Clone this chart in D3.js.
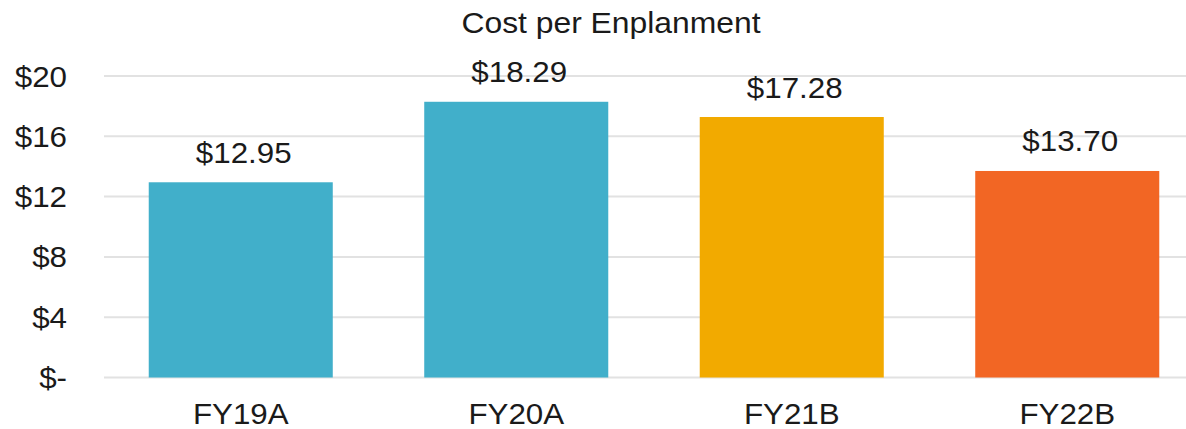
<!DOCTYPE html>
<html>
<head>
<meta charset="utf-8">
<script src="https://cdn.jsdelivr.net/npm/d3@7"></script>
<style>
  body { margin: 0; background: #fff; }
  text { font-family: "Liberation Sans", Arial, sans-serif; fill: #1a1a1a; }
</style>
</head>
<body>
<div id="chart"></div>
<script>
	// data
	var categories = ["FY19A", "FY20A", "FY21B", "FY22B"];
	var values = [12.95, 18.29, 17.28, 13.70];
	var barColors = ["#41AFCA", "#41AFCA", "#F2AA00", "#F26624"];
	var yTicks = [0, 4, 8, 12, 16, 20];
	var yTickLabels = ["$-", "$4", "$8", "$12", "$16", "$20"];
	var title = "Cost per Enplanment";

	var width = 1186, height = 429;
	var stretch = 1.08; //text looks slightly wider than tall in the source

	var svg = d3.select("#chart").append("svg")
		.attr("width", width)
		.attr("height", height);

	var x = d3.scaleBand()
		.domain(categories)
		.range([103, 1205])
		.paddingInner(0.332)
		.paddingOuter(0.166);

	var y = d3.scaleLinear()
		.domain([0, 20])
		.range([377.5, 76]);

	function placeText(sel, tx, ty) {
		return sel.attr("transform", function(d, i) {
			return "translate(" + tx(d, i) + "," + ty(d, i) + ") scale(" + stretch + ",1)";
		});
	}

	//Gridlines
	svg.append("g").attr("class", "grid")
		.selectAll("line")
		.data(yTicks)
		.enter().append("line")
		.attr("x1", 104)
		.attr("x2", width)
		.attr("y1", function(d) { return y(d); })
		.attr("y2", function(d) { return y(d); })
		.style("stroke", "#e2e2e2")
		.style("stroke-width", 2);

	//Y tick labels
	placeText(svg.append("g").selectAll("text")
		.data(yTicks)
		.enter().append("text")
		.style("text-anchor", "end")
		.style("font-size", "29px")
		.text(function(d, i) { return yTickLabels[i]; }),
		function() { return 67; },
		function(d) { return y(d) + 10.5; });

	//Bars
	svg.append("g").selectAll("rect")
		.data(values)
		.enter().append("rect")
		.attr("x", function(d, i) { return x(categories[i]); })
		.attr("width", x.bandwidth())
		.attr("y", function(d) { return y(d); })
		.attr("height", function(d) { return y(0) - y(d); })
		.style("fill", function(d, i) { return barColors[i]; });

	//Value labels
	placeText(svg.append("g").selectAll("text")
		.data(values)
		.enter().append("text")
		.style("text-anchor", "middle")
		.style("font-size", "29px")
		.text(function(d) { return "$" + d.toFixed(2); }),
		function(d, i) { return x(categories[i]) + x.bandwidth() / 2 + 3; },
		function(d) { return y(d) - 19.5; });

	//Category labels
	placeText(svg.append("g").selectAll("text")
		.data(categories)
		.enter().append("text")
		.style("text-anchor", "middle")
		.style("font-size", "29px")
		.text(function(d) { return d; }),
		function(d) { return x(d) + x.bandwidth() / 2; },
		function() { return 424; });

	//Title
	placeText(svg.append("text")
		.datum(title)
		.style("text-anchor", "middle")
		.style("font-size", "29.5px")
		.text(title),
		function() { return 611; },
		function() { return 33; });
</script>
</body>
</html>
